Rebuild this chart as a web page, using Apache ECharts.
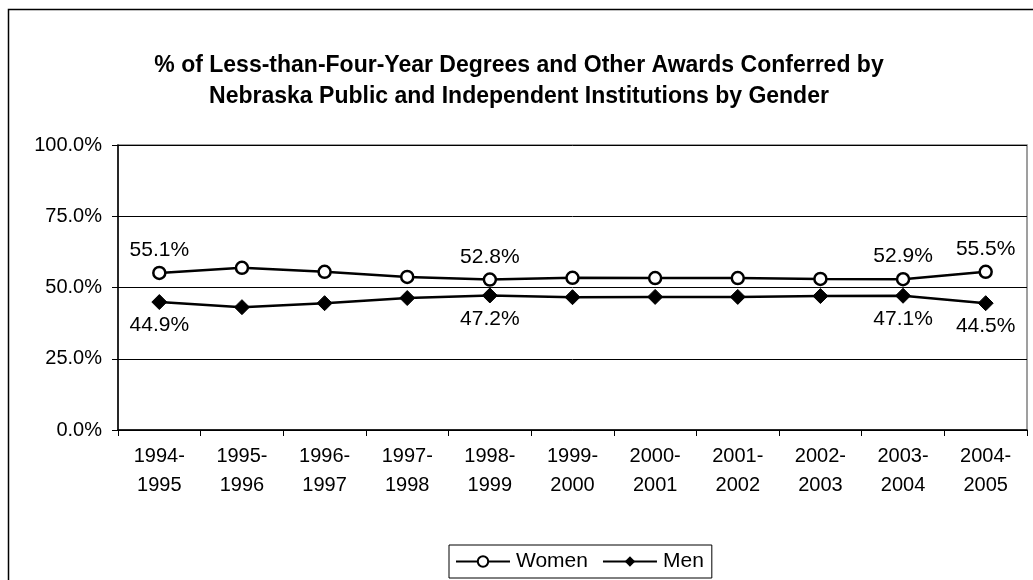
<!DOCTYPE html>
<html>
<head>
<meta charset="utf-8">
<script src="https://cdn.jsdelivr.net/npm/echarts@6/dist/echarts.min.js"></script>
<style>
  html, body { margin: 0; padding: 0; background: #fff; }
  #chart { width: 1033px; height: 580px; }
</style>
</head>
<body>
<div id="chart"></div>
<script>
const categories = ['1994-\n1995', '1995-\n1996', '1996-\n1997', '1997-\n1998', '1998-\n1999', '1999-\n2000',
  '2000-\n2001', '2001-\n2002', '2002-\n2003', '2003-\n2004', '2004-\n2005']
const women = [55.1, 56.9, 55.5, 53.7, 52.8, 53.4, 53.3, 53.3, 53.0, 52.9, 55.5]
const men = [44.9, 43.1, 44.5, 46.3, 47.2, 46.6, 46.7, 46.7, 47.0, 47.1, 44.5]
const labelIdx = [0, 4, 9, 10]

const font = 'Liberation Sans, Arial, sans-serif'
const chart = echarts.init(document.getElementById('chart'))

const labelFor = (pos) => ({
  show: true,
  position: pos,
  distance: 5,
  color: '#000',
  fontFamily: font,
  fontSize: 21,
  formatter: (p) => (labelIdx.includes(p.dataIndex) ? p.value.toFixed(1) + '%' : ''),
})

chart.setOption({
  animation: false,
  title: {
    text: '% of Less-than-Four-Year Degrees and Other Awards Conferred by\nNebraska Public and Independent Institutions by Gender',
    left: 514,
    textAlign: 'center',
    top: 45,
    textStyle: { fontFamily: font, fontSize: 23, fontWeight: 'bold', color: '#000', lineHeight: 31 },
  },
  graphic: [
    { type: 'rect', left: 6, top: 7, shape: { width: 1100, height: 700 }, style: { fill: 'none', stroke: '#000', lineWidth: 1.5 }, z: -1 },
  ],
  legend: {
    bottom: 2,
    left: 449,
    itemGap: 14,
    itemWidth: 54,
    itemHeight: 13,
    padding: [6, 8, 6, 6],
    borderColor: '#000',
    borderWidth: 1,
    textStyle: { fontFamily: font, fontSize: 21, color: '#000', padding: [0, 0, 0, 1] },
    data: ['Women', 'Men'],
  },
  grid: {
    show: true,
    borderColor: '#808080',
    borderWidth: 1.5,
    left: 118, right: 6, top: 145, bottom: 150,
  },
  xAxis: {
    type: 'category',
    data: categories,
    boundaryGap: true,
    axisLine: { lineStyle: { color: '#000', width: 1.5 } },
    axisTick: { show: true, length: 6, lineStyle: { color: '#000' } },
    axisLabel: { color: '#000', fontFamily: font, fontSize: 20, lineHeight: 29, margin: 12 },
  },
  yAxis: {
    type: 'value',
    min: 0,
    max: 100,
    interval: 25,
    axisLine: { show: true, lineStyle: { color: '#000', width: 1.5 } },
    axisTick: { show: true, inside: false, length: 6, lineStyle: { color: '#000' } },
    axisLabel: { color: '#000', fontFamily: font, fontSize: 20, margin: 16, formatter: (v) => v.toFixed(1) + '%' },
    splitLine: { lineStyle: { color: '#000', width: 1 } },
  },
  series: [
    {
      name: 'Women',
      type: 'line',
      data: women,
      symbol: 'circle',
      symbolSize: 12,
      itemStyle: { color: '#fff', borderColor: '#000', borderWidth: 2.5 },
      lineStyle: { color: '#000', width: 2.5 },
      label: labelFor('top'),
    },
    {
      name: 'Men',
      type: 'line',
      data: men,
      symbol: 'diamond',
      symbolSize: 15,
      itemStyle: { color: '#000', borderColor: '#000' },
      lineStyle: { color: '#000', width: 2.5 },
      label: labelFor('bottom'),
    },
  ],
})
</script>
</body>
</html>
